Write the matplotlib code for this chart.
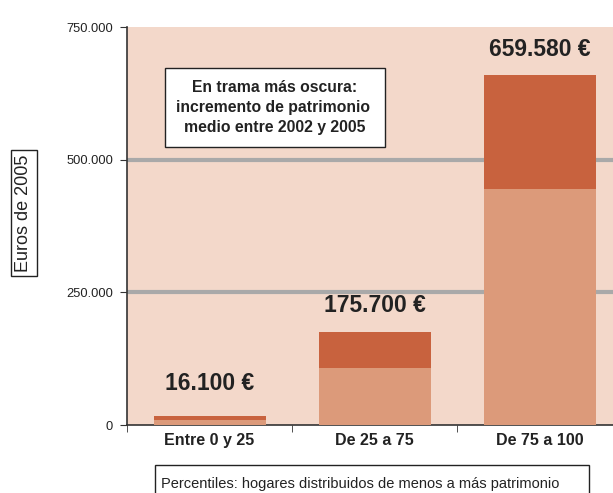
import numpy as np
import matplotlib
matplotlib.use("Agg")
import matplotlib.pyplot as plt
from matplotlib.patches import Rectangle

# data
categories = ["Entre 0 y 25", "De 25 a 75", "De 75 a 100"]
base_2002 = [10000, 107000, 445000]          # lighter part of each bar
total_2005 = [16100, 175700, 659580]         # full bar height
value_labels = ["16.100 €", "175.700 €", "659.580 €"]
y_ticks = [0, 250000, 500000, 750000]
y_tick_labels = ["0", "250.000", "500.000", "750.000"]

increment = [t - b for t, b in zip(total_2005, base_2002)]

bg = "#f3d8ca"
light = "#dc9a7a"
dark = "#c8623e"
txt = "#222222"

plt.rcParams["font.family"] = ["Liberation Sans", "DejaVu Sans"]

W, H = 613, 493
fig = plt.figure(figsize=(W / 100, H / 100), dpi=100)
ax = fig.add_axes([127 / W, 1 - 425 / H, 486 / W, 398 / H])
ax.set_facecolor(bg)

x = np.arange(len(categories))
w = 112 / 165
ax.bar(x, base_2002, width=w, color=light, zorder=3)
ax.bar(x, increment, width=w, bottom=base_2002, color=dark, zorder=3)

for yv in [250000, 500000]:
    ax.axhline(yv, color="#a9a9a9", lw=3, zorder=2)

# label offsets above bar tops, in points
label_offsets = [24, 19, 18]
for xi, t, lab, off in zip(x, total_2005, value_labels, label_offsets):
    ax.annotate(lab, (xi, t), xytext=(0, off), textcoords="offset points",
                ha="center", va="center", fontsize=16.5, fontweight="bold", color=txt)

ax.set_xlim(-0.5, -0.5 + 486 / 165)
ax.set_ylim(0, 750000)
ax.set_yticks(y_ticks)
ax.set_yticklabels(y_tick_labels, fontsize=9.3, color=txt)
ax.set_xticks(x)
ax.set_xticklabels(categories, fontsize=11.5, fontweight="bold", color=txt)
ax.tick_params(axis="x", length=0, pad=6)
ax.tick_params(axis="y", length=5, direction="out", color="#333333", pad=5)
ax.set_xticks([-0.5, 0.5, 1.5], minor=True)
ax.tick_params(axis="x", which="minor", length=5, direction="out", color="#333333")

for s in ["top", "right"]:
    ax.spines[s].set_visible(False)
ax.spines["left"].set_color("#333333")
ax.spines["bottom"].set_color("#333333")
ax.spines["left"].set_linewidth(1.2)
ax.spines["bottom"].set_linewidth(1.2)

# legend-like note box inside the plot
fig.patches.append(Rectangle((165 / W, 1 - 147 / H), 220 / W, 79 / H,
                             transform=fig.transFigure, fc="white", ec="#222222",
                             lw=1, zorder=5))
fig.text(275 / W, 1 - 107.5 / H,
         "En trama más oscura:\nincremento de patrimonio \nmedio entre 2002 y 2005",
         ha="center", va="center", fontsize=11.3, fontweight="bold", color=txt,
         linespacing=1.45, zorder=6)

fig.text(24 / W, 1 - 213 / H, "Euros de 2005", rotation=90, ha="center",
         va="center", fontsize=13, color=txt,
         bbox=dict(boxstyle="square,pad=0.25", fc="white", ec="#222222", lw=1))

fig.patches.append(Rectangle((155 / W, 1 - 500 / H), 434 / W, 35 / H,
                             transform=fig.transFigure, fc="white", ec="#222222",
                             lw=1, zorder=5))
fig.text(161 / W, 1 - 484 / H,
         "Percentiles: hogares distribuidos de menos a más patrimonio",
         ha="left", va="center", fontsize=10.5, color=txt, zorder=6)

fig.savefig("out.png", dpi=100)
